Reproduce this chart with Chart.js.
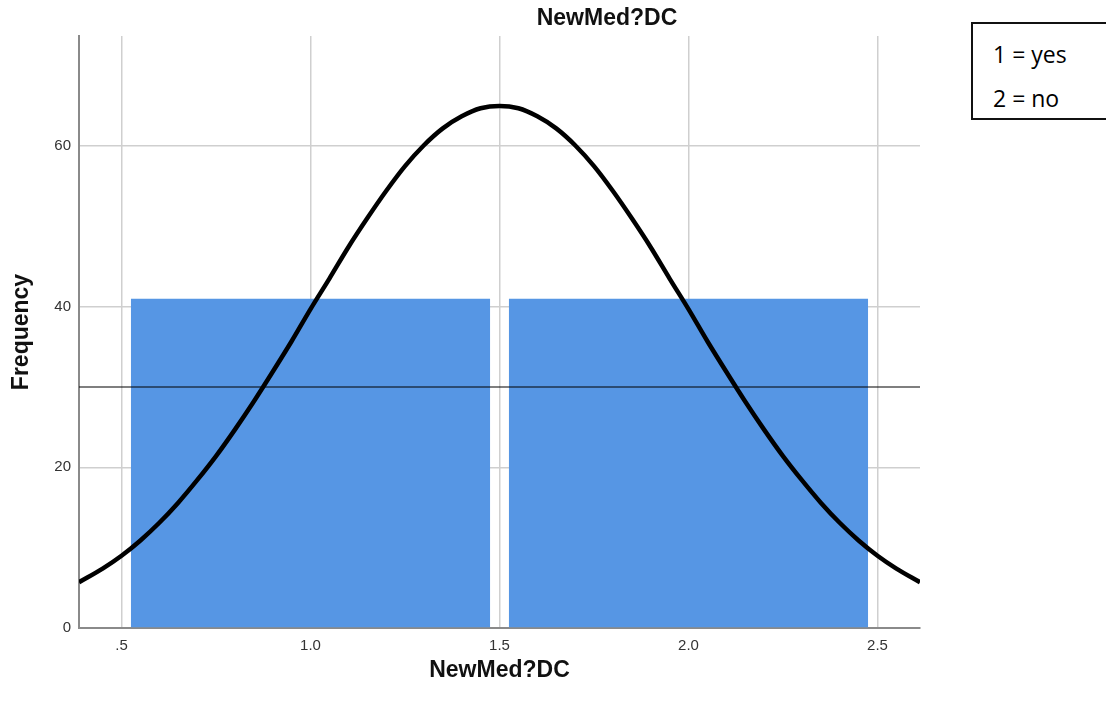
<!DOCTYPE html>
<html>
<head>
<meta charset="utf-8">
<script src="https://cdn.jsdelivr.net/npm/chart.js@4.4.0/dist/chart.umd.min.js"></script>
<style>
  html, body { margin: 0; padding: 0; background: #ffffff; }
  #wrap { position: relative; width: 1106px; height: 705px; overflow: hidden; }
  #title { position: absolute; left: 507px; width: 200px; top: 4px; text-align: center;
           font: bold 23px "Liberation Sans", Arial, sans-serif; color: #111; }
  #legendBox { position: absolute; left: 971px; top: 22px; width: 200px; height: 98px;
               border: 2px solid #111; box-sizing: border-box; background: #fff; }
  .lg { position: absolute; left: 20px; font: 23px "Open Sans", sans-serif; color: #000; white-space: nowrap; }
</style>
</head>
<body>
<div id="wrap">
  <canvas id="c" width="1106" height="705"></canvas>
  <div id="title">NewMed?DC</div>
  <div id="legendBox">
    <div class="lg" style="top:14px">1 = yes</div>
    <div class="lg" style="top:58px">2 = no</div>
  </div>
</div>
<script>
// ---- data ----
const categories = [1, 2];
const frequencies = [41, 41];
const referenceLevel = 30;
const curveX = [0.3875, 0.45, 0.5, 0.55, 0.6, 0.65, 0.7, 0.75, 0.8, 0.85, 0.9, 0.95, 1.0,
                1.05, 1.1, 1.15, 1.2, 1.25, 1.3, 1.35, 1.4, 1.45, 1.5,
                1.55, 1.6, 1.65, 1.7, 1.75, 1.8, 1.85, 1.9, 1.95, 2.0,
                2.05, 2.1, 2.15, 2.2, 2.25, 2.3, 2.35, 2.4, 2.45, 2.5, 2.55, 2.6125];
const curveY = [5.7, 7.4, 9.0, 10.9, 13.1, 15.6, 18.4, 21.4, 24.7, 28.2, 31.9, 35.7, 39.7,
                43.5, 47.4, 51.0, 54.4, 57.5, 60.1, 62.2, 63.7, 64.7, 65.0,
                64.7, 63.7, 62.2, 60.1, 57.5, 54.4, 51.0, 47.4, 43.5, 39.7,
                35.7, 31.9, 28.2, 24.7, 21.4, 18.4, 15.6, 13.1, 10.9, 9.0, 7.4, 5.7];
const xTickValues = [0.5, 1.0, 1.5, 2.0, 2.5];
const xTickLabels = ['.5', '1.0', '1.5', '2.0', '2.5'];
const yTickValues = [0, 20, 40, 60];
const yTickLabels = ['0', '20', '40', '60'];
const xRange = [0.3875, 2.6125];
const yRange = [0, 73.7];

const barData = categories.map((c, i) => ({ x: c, y: frequencies[i] }));
const curveData = curveX.map((x, i) => ({ x: x, y: curveY[i] }));
const refData = xRange.map(x => ({ x: x, y: referenceLevel }));

const FONT = '"Liberation Sans", Arial, sans-serif';

new Chart(document.getElementById('c'), {
  type: 'bar',
  data: {
    datasets: [
      {
        type: 'line', data: curveData, borderColor: '#000', borderWidth: 4.5,
        pointRadius: 0, tension: 0.4, cubicInterpolationMode: 'monotone', fill: false, order: 1
      },
      {
        type: 'line', data: refData, borderColor: '#000', borderWidth: 1.2,
        pointRadius: 0, fill: false, order: 2
      },
      {
        // the bar ruler also counts the 0.5-unit tick spacing, so 1.9 x 0.5 = 0.95 units wide
        type: 'bar', data: barData, backgroundColor: 'rgb(86,150,228)', borderWidth: 0,
        barPercentage: 1.9, categoryPercentage: 1.0, grouped: false, order: 3
      }
    ]
  },
  options: {
    responsive: false,
    animation: false,
    layout: { padding: { left: 0, right: 186, top: 36, bottom: 0 } },
    plugins: { legend: { display: false }, tooltip: { enabled: false }, title: { display: false } },
    scales: {
      x: {
        type: 'linear', min: xRange[0], max: xRange[1], offset: false,
        afterBuildTicks: s => { s.ticks = xTickValues.map(v => ({ value: v })); },
        afterFit: s => { s.height = 77; },
        ticks: {
          autoSkip: false, maxRotation: 0, padding: 9, color: '#333',
          font: { family: FONT, size: 15 },
          callback: (v, i) => xTickLabels[i]
        },
        grid: { color: '#cfcfcf', lineWidth: 1.5, drawTicks: false, offset: false },
        border: { color: '#8a8a8a', width: 2 },
        title: { display: true, text: 'NewMed?DC', color: '#111',
                 font: { family: FONT, size: 23, weight: 'bold' },
                 padding: { top: 0, bottom: 21 } }
      },
      y: {
        type: 'linear', min: yRange[0], max: yRange[1],
        afterBuildTicks: s => { s.ticks = yTickValues.map(v => ({ value: v })); },
        afterFit: s => { s.width = 79; },
        ticks: {
          padding: 8, color: '#333', font: { family: FONT, size: 15 },
          callback: (v, i) => yTickLabels[i]
        },
        grid: { color: '#cfcfcf', lineWidth: 1.5, drawTicks: false },
        border: { color: '#8a8a8a', width: 2 },
        title: { display: true, text: 'Frequency', color: '#111',
                 font: { family: FONT, size: 23, weight: 'bold' },
                 padding: { top: 8, bottom: 0 } }
      }
    }
  }
});
</script>
</body>
</html>
